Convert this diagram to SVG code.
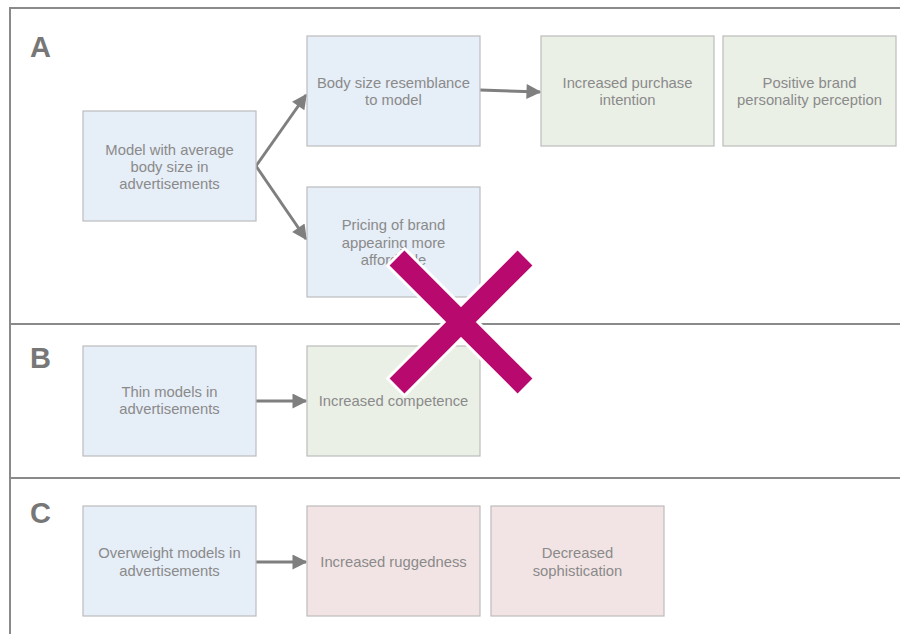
<svg xmlns="http://www.w3.org/2000/svg" width="900" height="634" viewBox="0 0 900 634">
<style>
.box{stroke:#bcbcbc;stroke-width:1.2}
.b{fill:#e6eef7}.g{fill:#ebf0e7}.p{fill:#f2e4e4}
text{font-family:"Liberation Sans",Arial,sans-serif;font-size:14.8px;fill:#8a8a8a;text-anchor:middle}
.lab{font-size:29px;font-weight:bold;fill:#777;text-anchor:start}
.frame{stroke:#8a8a8a;stroke-width:2;fill:none}
.con{stroke:#7f7f7f;stroke-width:3;fill:none}
</style>
<defs>
<marker id="ah" viewBox="0 0 10 10" refX="9" refY="5" markerWidth="6" markerHeight="5" orient="auto" markerUnits="strokeWidth">
<path d="M0,0 L10,5 L0,10 z" fill="#7f7f7f"/>
</marker>
</defs>
<rect width="900" height="634" fill="#fff"/>
<g id="frame">
<path class="frame" d="M10,634 V8 H900 M10,324 H900 M10,478 H900"/>
<text class="lab" x="30" y="57">A</text>
<text class="lab" x="30" y="368">B</text>
<text class="lab" x="30" y="523">C</text>
</g>
<g id="connectors">
<path class="con" d="M256,166 L306,95" marker-end="url(#ah)"/>
<path class="con" d="M256,166 L306,239" marker-end="url(#ah)"/>
<path class="con" d="M480,90 L540,92" marker-end="url(#ah)"/>
<path class="con" d="M256,401 L306,401" marker-end="url(#ah)"/>
<path class="con" d="M256,562 L306,562" marker-end="url(#ah)"/>
</g>
<g id="n1"><rect class="box b" x="83" y="111" width="173" height="110"/><text x="169.5" y="155">Model with average</text><text x="169.5" y="172">body size in</text><text x="169.5" y="189">advertisements</text></g>
<g id="n2"><rect class="box b" x="307" y="36" width="173" height="110"/><text x="393.5" y="88">Body size resemblance</text><text x="393.5" y="105">to model</text></g>
<g id="n3"><rect class="box b" x="307" y="187" width="173" height="110"/><text x="393.5" y="230">Pricing of brand</text><text x="393.5" y="248">appearing more</text><text x="393.5" y="265">affordable</text></g>
<g id="n4"><rect class="box g" x="541" y="36" width="173" height="110"/><text x="627.5" y="88">Increased purchase</text><text x="627.5" y="105">intention</text></g>
<g id="n5"><rect class="box g" x="723" y="36" width="173" height="110"/><text x="809.5" y="88">Positive brand</text><text x="809.5" y="105">personality perception</text></g>
<g id="n6"><rect class="box b" x="83" y="346" width="173" height="110"/><text x="169.5" y="397">Thin models in</text><text x="169.5" y="414">advertisements</text></g>
<g id="n7"><rect class="box g" x="307" y="346" width="173" height="110"/><text x="393.5" y="406">Increased competence</text></g>
<g id="n8"><rect class="box b" x="83" y="506" width="173" height="110"/><text x="169.5" y="558">Overweight models in</text><text x="169.5" y="576">advertisements</text></g>
<g id="n9"><rect class="box p" x="307" y="506" width="173" height="110"/><text x="393.5" y="567">Increased ruggedness</text></g>
<g id="n10"><rect class="box p" x="491" y="506" width="173" height="110"/><text x="577.5" y="558">Decreased</text><text x="577.5" y="576">sophistication</text></g>
<g id="cross">
<path d="M395,256 L527,388 M527,256 L395,388" stroke="#fff" stroke-width="27" fill="none"/>
<path d="M397,258 L525,386 M525,258 L397,386" stroke="#b8096f" stroke-width="21" fill="none"/>
</g>
</svg>
